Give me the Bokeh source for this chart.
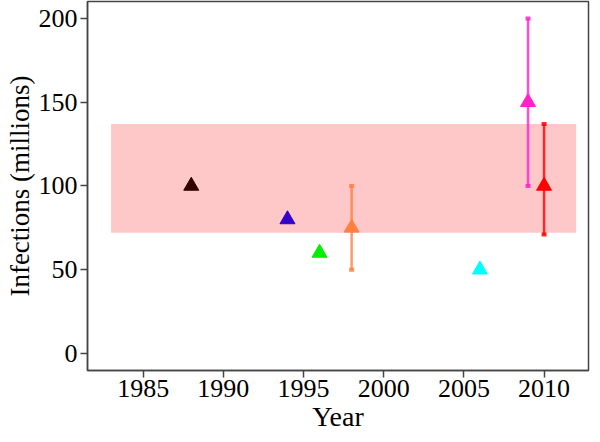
from bokeh.plotting import figure
from bokeh.models import ColumnDataSource, Range1d, FixedTicker
from bokeh.embed import file_html
from bokeh.resources import INLINE

# Data
years = [1988, 1994, 1996, 1998, 2006, 2009, 2010]
values = [100, 80, 60, 75, 50, 150, 100]
colors = ["#330000", "#3300CC", "#00EE00", "#FF8040", "#00FFFF", "#FF22CC", "#FF0000"]

err_years = [1998, 2009, 2010]
err_lower = [50, 100, 71]
err_upper = [100, 200, 137]
err_colors = ["#FF8040", "#FF22CC", "#FF0000"]

band_x0, band_x1 = 1983, 2012
band_y0, band_y1 = 72, 137

x_ticks = [1985, 1990, 1995, 2000, 2005, 2010]
y_ticks = [0, 50, 100, 150, 200]

FONT = "Liberation Serif"

p = figure(width=592, height=434, output_backend="svg", toolbar_location=None,
           x_range=Range1d(1981.53, 2012.77), y_range=Range1d(-10.2, 210.1),
           min_border_left=87, min_border_right=4, min_border_top=1, min_border_bottom=64)

p.xgrid.visible = False
p.ygrid.visible = False
p.outline_line_color = "#444444"
p.outline_line_width = 1.5
p.outline_line_alpha = 1

band = ColumnDataSource(dict(x0=[band_x0], x1=[band_x1], y0=[band_y0], y1=[band_y1]))
p.quad(left="x0", right="x1", bottom="y0", top="y1", source=band,
       fill_color="#FFC8C8", line_color=None)

esrc = ColumnDataSource(dict(x=err_years, lo=err_lower, hi=err_upper, c=err_colors))
p.segment(x0="x", x1="x", y0="lo", y1="hi", source=esrc, line_color="c",
          line_width=2.5, line_alpha=0.8)
for col in ("lo", "hi"):
    p.rect(x="x", y=col, width=5, height=4, width_units="screen", height_units="screen",
           source=esrc, fill_color="c", line_color=None, fill_alpha=0.85)

src = ColumnDataSource(dict(x=years, y=values, c=colors))
p.scatter(x="x", y="y", source=src, marker="triangle", size=15,
          fill_color="c", line_color="c")

for ax in (p.xaxis[0], p.yaxis[0]):
    ax.axis_line_color = "#444444"
    ax.axis_line_width = 1.5
    ax.major_tick_line_color = "#444444"
    ax.major_tick_line_width = 1.5
    ax.major_tick_out = 7
    ax.major_tick_in = 0
    ax.minor_tick_line_color = None
    ax.major_label_text_font = FONT
    ax.major_label_text_font_size = "26px"
    ax.major_label_text_color = "#000000"
    ax.axis_label_text_font = FONT
    ax.axis_label_text_font_style = "normal"
    ax.axis_label_text_color = "#000000"

p.xaxis.axis_label_text_font_size = "28px"
p.yaxis.axis_label_text_font_size = "27px"
p.xaxis.ticker = FixedTicker(ticks=x_ticks)
p.yaxis.ticker = FixedTicker(ticks=y_ticks)
p.xaxis.axis_label = "Year"
p.yaxis.axis_label = "Infections (millions)"
p.xaxis.major_label_standoff = 2
p.xaxis.axis_label_standoff = 1
p.yaxis.major_label_standoff = 3
p.yaxis.axis_label_standoff = 1

open("out.html", "w").write(file_html(p, INLINE))
